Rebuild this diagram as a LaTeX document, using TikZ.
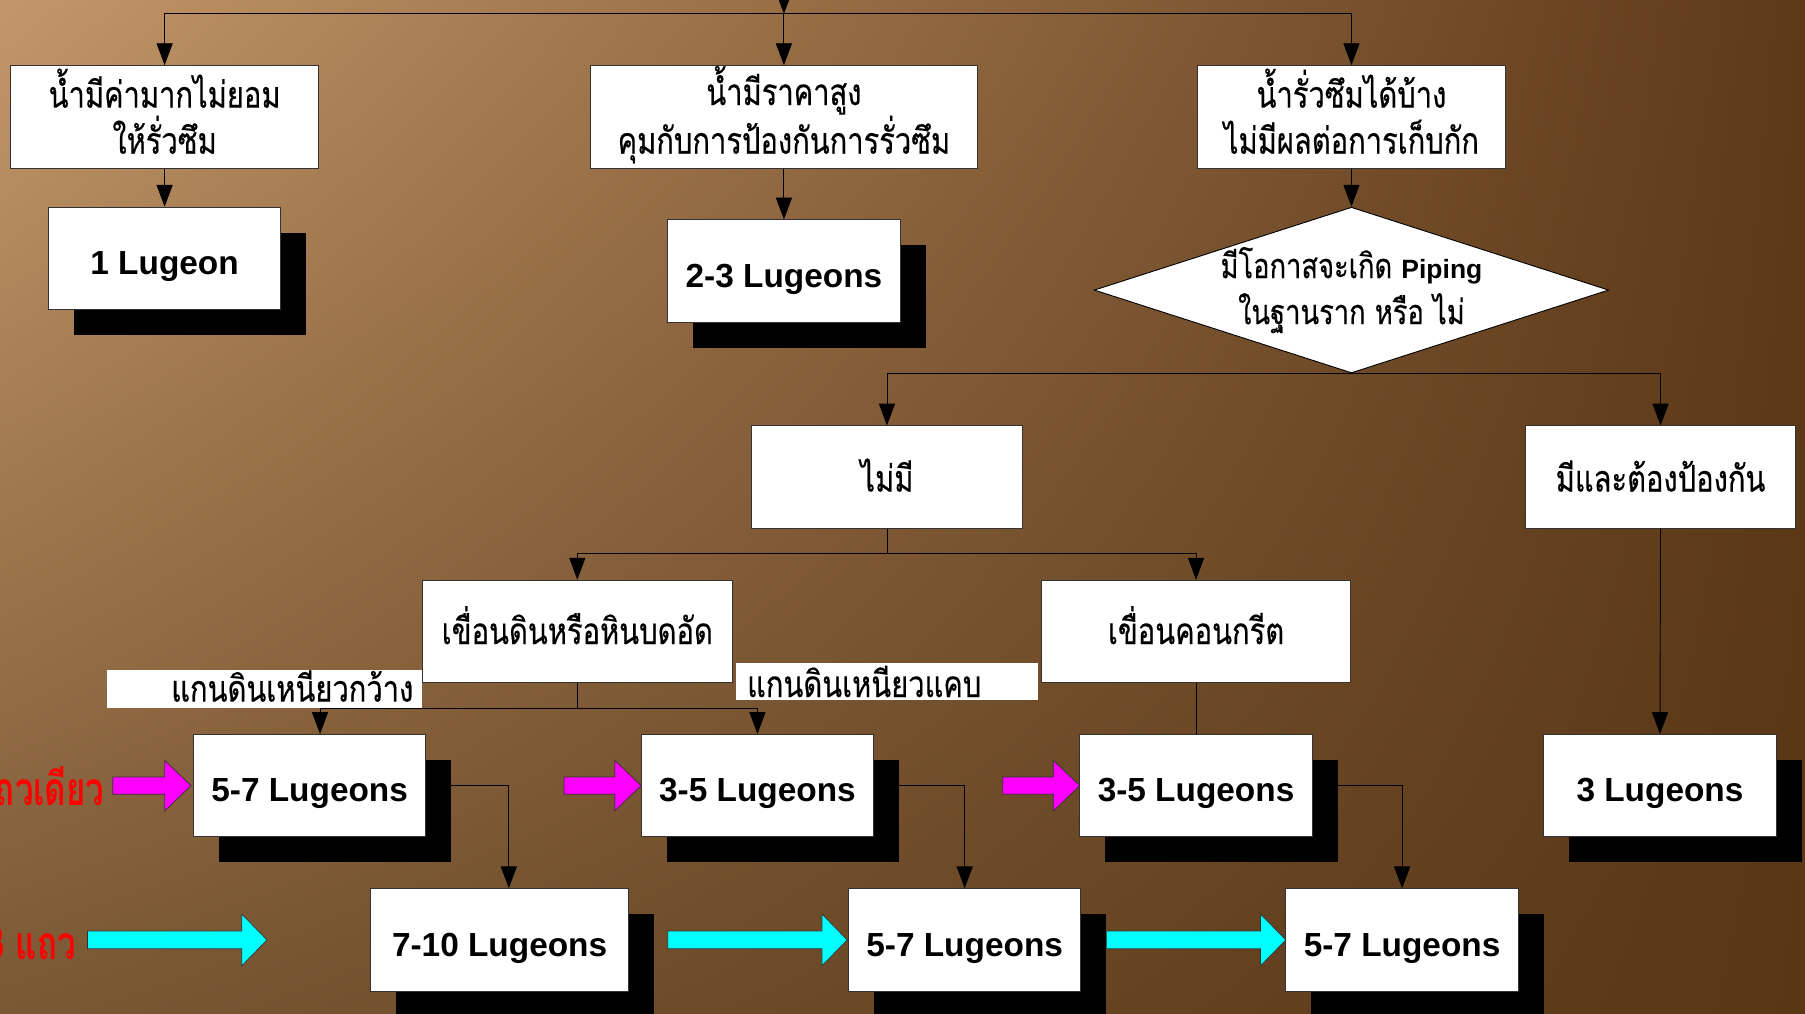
\documentclass[tikz,border=0pt]{standalone}
\usepackage{fontspec}
\setmainfont{Liberation Sans}
\newfontfamily\thai[Script=Thai,FakeStretch=0.79,FakeBold=0.4]{Loma}
\newfontfamily\thaired[Script=Thai,FakeStretch=0.72]{Loma}
\usetikzlibrary{arrows.meta,shapes.geometric,shadows,shadings}
\pgfdeclarelayer{backdrop}
\pgfdeclarelayer{wires}
\pgfsetlayers{backdrop,wires,main}

\definecolor{bgTL}{RGB}{196,151,106}
\definecolor{bgTR}{RGB}{94,57,24}
\definecolor{bgBL}{RGB}{122,88,52}
\definecolor{bgBR}{RGB}{88,54,22}
\definecolor{rowmag}{RGB}{255,0,255}
\definecolor{rowcyan}{RGB}{0,255,255}

\tikzset{
  box/.style={draw=black!80, line width=0.8pt, fill=white, inner sep=0pt,
    minimum height=89pt, align=center},
  thaibox/.style={box, font=\thai\fontsize{32}{40}\selectfont,
    text height=25pt, text depth=0pt},
  twoline/.style={text height=64pt, text depth=0pt},
  lugbox/.style={box, font=\fontsize{29}{34}\selectfont\bfseries,
    text height=28pt, text depth=0pt,
    drop shadow={shadow xshift=22pt, shadow yshift=-22pt, opacity=1, fill=black}},
  decision/.style={diamond, draw=black, line width=0.8pt, fill=white, inner sep=-12pt,
    minimum width=447pt, minimum height=144pt, aspect=3.1, align=center,
    font=\thai\fontsize{30}{40}\selectfont},
  tag/.style={fill=white, inner ysep=0pt, text depth=0pt,
    font=\thai\fontsize{32}{34}\selectfont},
  rowname/.style={text=red, inner sep=0pt, font=\thaired\fontsize{40}{44}\selectfont\bfseries},
  link/.style={draw=black, line width=0.8pt},
  arr/.style={link, -{Triangle[length=19pt,width=14pt]}},
}

% block arrow: tail x, tip x, centre y, half shaft, half head, head length, colour
\newcommand\rowarrow[7]{%
  \filldraw[fill=#7, draw=black!80, line width=0.6pt]
    (#1,#3-#4) -- (#2-#6,#3-#4) -- (#2-#6,#3-#5) -- (#2,#3)
    -- (#2-#6,#3+#5) -- (#2-#6,#3+#4) -- (#1,#3+#4) -- cycle;}

\begin{document}
\begin{tikzpicture}[x=1pt,y=-1pt]
\useasboundingbox (0,0) rectangle (1568,880);
\begin{pgfonlayer}{backdrop}
  \shade[upper left=bgTL, upper right=bgTR, lower left=bgBL, lower right=bgBR]
    (0,0) rectangle (1568,880);
\end{pgfonlayer}

% first level: three ways of valuing the water
\node[thaibox, twoline, minimum width=268pt] (a1) at (143,101.5) {น้ำมีค่ามากไม่ยอม\\ให้รั่วซึม};
\node[thaibox, twoline, minimum width=336pt] (a2) at (681,101.5) {น้ำมีราคาสูง\\คุมกับการป้องกันการรั่วซึม};
\node[thaibox, twoline, minimum width=268pt] (a3) at (1174,101.5) {น้ำรั่วซึมได้บ้าง\\ไม่มีผลต่อการเก็บกัก};

\node[lugbox, minimum width=202pt] (l1) at (143,224.5) {1 Lugeon};
\node[lugbox, minimum width=202pt] (l2) at (681,235.5) {2-3 Lugeons};

\node[decision] (d) at (1174,252) {มีโอกาสจะเกิด {\fontspec{Liberation Sans}\bfseries\fontsize{23}{40}\selectfont Piping}\\ในฐานราก หรือ ไม่};

\node[thaibox, minimum width=235pt] (no) at (770.5,414.5) {ไม่มี};
\node[thaibox, minimum width=235pt] (yes) at (1442.5,414.5) {มีและต้องป้องกัน};

\node[thaibox, minimum width=269pt, text height=22pt] (earth) at (501.5,548.5) {เขื่อนดินหรือหินบดอัด};
\node[thaibox, minimum width=268pt, text height=22pt] (conc) at (1039,548.5) {เขื่อนคอนกรีต};

% single-row grouting
\node[lugbox, minimum width=202pt] (r1a) at (269,682.5) {5-7 Lugeons};
\node[lugbox, minimum width=202pt] (r1b) at (658,682.5) {3-5 Lugeons};
\node[lugbox, minimum width=202pt] (r1c) at (1039,682.5) {3-5 Lugeons};
\node[lugbox, minimum width=202pt] (r1d) at (1442,682.5) {3 Lugeons};

% three-row grouting
\node[lugbox, minimum width=224pt] (r2a) at (434,816.5) {7-10 Lugeons};
\node[lugbox, minimum width=202pt] (r2b) at (838,816.5) {5-7 Lugeons};
\node[lugbox, minimum width=202pt] (r2c) at (1218,816.5) {5-7 Lugeons};

% core width labels
\node[tag, minimum width=274pt, minimum height=33pt, text height=22pt,
      text width=258pt, inner xsep=8pt, align=right]
  (wide) at (230,598.5) {แกนดินเหนียวกว้าง};
\node[tag, minimum width=263pt, minimum height=32pt, text height=27pt,
      text width=247pt, inner xsep=8pt, align=left]
  (narrow) at (770.5,592) {\hspace*{2pt}แกนดินเหนียวแคบ};

% row names
\node[rowname, anchor=east] (single) at (91,683) {แถวเดียว};
\node[rowname, anchor=east] (triple) at (66,819) {3 แถว};

\rowarrow{98}{166}{682.5}{7.5}{22}{23}{rowmag}
\rowarrow{490}{557}{682.5}{7.5}{22}{23}{rowmag}
\rowarrow{871}{938}{682.5}{7.5}{22}{23}{rowmag}
\rowarrow{76}{232}{816.5}{7.7}{22.5}{22}{rowcyan}
\rowarrow{580}{736}{816.5}{7.7}{22.5}{22}{rowcyan}
\rowarrow{961}{1117}{816.5}{7.7}{22.5}{22}{rowcyan}

\coordinate (src) at (681,-12);
\coordinate (hub) at (681,12);
\coordinate (j2) at (770.5,481);
\coordinate (j3) at (501.5,615);

\begin{pgfonlayer}{wires}
  \draw[arr] (src) -- (hub);
  \draw[arr] (hub) -| (a1.north);
  \draw[arr] (hub) -- (a2.north);
  \draw[arr] (hub) -| (a3.north);
  \draw[arr] (a1) -- (l1);
  \draw[arr] (a2) -- (l2);
  \draw[arr] (a3) -- (d);
  \draw[arr] (d.south) -| (no.north);
  \draw[arr] (d.south) -| (yes.north);
  \draw[link] (no.south) -- (j2);
  \draw[arr] (j2) -| (earth.north);
  \draw[arr] (j2) -| (conc.north);
  \draw[link] (earth.south) -- (j3);
  \draw[arr] (j3) -| ([xshift=9pt]r1a.north);
  \draw[arr] (j3) -| (r1b.north);
  \draw[link] (conc.south) -- (r1c.north);
  \draw[arr] (yes.south) -- (r1d.north);
  \draw[arr] (r1a.east) -| ([xshift=8pt]r2a.north);
  \draw[arr] (r1b.east) -| (r2b.north);
  \draw[arr] (r1c.east) -| (r2c.north);
\end{pgfonlayer}
\end{tikzpicture}
\end{document}
